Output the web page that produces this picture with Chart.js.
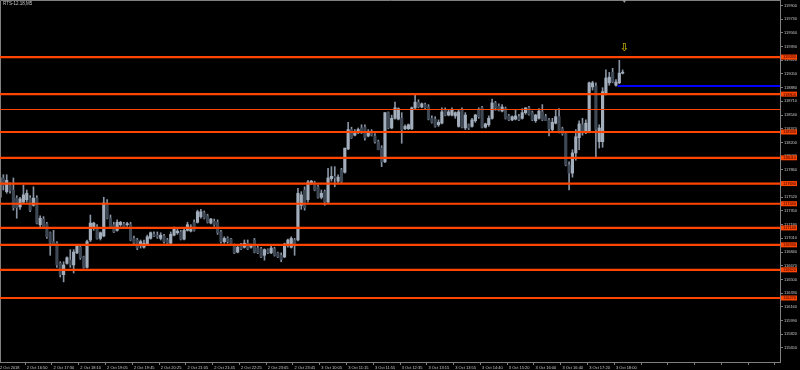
<!DOCTYPE html>
<html>
<head>
<meta charset="utf-8">
<script src="https://cdn.jsdelivr.net/npm/chart.js@4.4.0/dist/chart.umd.min.js"></script>
<style>
  html, body { margin: 0; padding: 0; background: #000; }
  canvas { display: block; }
</style>
</head>
<body>
<canvas id="rtsChart" width="800" height="370"></canvas>
<script>
const symbolTitle = 'RTS-12.18,M5';
const slotCount = 234; // bar slots across the window, the rest is chart shift

// one label every 8 bars
const timeLabels = [
  '2 Oct 2018', '2 Oct 16:50', '2 Oct 17:30', '2 Oct 18:10', '2 Oct 19:05', '2 Oct 19:45',
  '2 Oct 20:25', '2 Oct 21:05', '2 Oct 21:45', '2 Oct 22:25', '2 Oct 23:05', '2 Oct 23:45',
  '3 Oct 10:05', '3 Oct 11:15', '3 Oct 11:55', '3 Oct 12:35', '3 Oct 13:15', '3 Oct 13:55',
  '3 Oct 14:40', '3 Oct 15:20', '3 Oct 16:00', '3 Oct 16:40', '3 Oct 17:20', '3 Oct 18:00'
];

const yTicks = [
  119900, 119730, 119560, 119390, 119220, 119050, 118880, 118710, 118540, 118370,
  118200, 118030, 117860, 117690, 117520, 117350, 117180, 117010, 116840, 116670,
  116500, 116330, 116160, 115990, 115820, 115650
];

const opens = [
  117520, 117760, 117590, 117670, 117610, 117510, 117400, 117460, 117490, 117510,
  117420, 117510, 117180, 117250, 117190, 117080, 116970, 116950, 116700, 116560,
  116700, 116740, 116680, 116830, 116900, 116780, 116650, 116990, 117140, 117150,
  117010, 117040, 117450, 117260, 117180, 117110, 117180, 117190, 117180, 117180,
  117010, 116990, 116920, 116900, 116930, 117010, 117060, 117050, 117010, 117040,
  116990, 116950, 117050, 117080, 117090, 117000, 117110, 117100, 117210, 117210,
  117280, 117330, 117290, 117200, 117220, 117210, 117090, 116970, 117010, 117000,
  116930, 116840, 116930, 116900, 116950, 116900, 116990, 116890, 116880, 116800,
  116870, 116830, 116880, 116830, 116800, 116780, 116920, 116900, 116990, 116990,
  117420, 117610, 117490, 117700, 117700, 117650, 117520, 117590, 117460, 117750,
  117780, 117720, 117860, 117830, 118120, 118360, 118290, 118320, 118380, 118390,
  118280, 118320, 118280, 118210, 118130, 117960, 118570, 118380, 118500, 118490,
  118500, 118370, 118370, 118370, 118630, 118700, 118640, 118670, 118640, 118500,
  118490, 118420, 118440, 118600, 118540, 118540, 118530, 118400, 118600, 118380,
  118420, 118400, 118470, 118600, 118630, 118390, 118420, 118500, 118690, 118650,
  118590, 118620, 118530, 118480, 118490, 118520, 118500, 118570, 118630, 118570,
  118470, 118500, 118580, 118520, 118480, 118360, 118440, 118520, 118370, 118310,
  117920, 117820, 118070, 118260, 118420, 118320, 118330, 118890, 118900, 118210,
  118210, 118810, 118940, 119070, 118910, 118940, 119060
];

const highs = [
  117860, 117800, 117800, 117700, 117760, 117540, 117520, 117670, 117610, 117540,
  117650, 117540, 117290, 117280, 117210, 117090, 117110, 116970, 116720, 116720,
  116780, 116870, 116870, 116930, 116930, 116790, 116990, 117300, 117210, 117180,
  117090, 117520, 117490, 117300, 117210, 117240, 117220, 117210, 117210, 117210,
  117040, 117010, 116990, 116990, 117050, 117090, 117090, 117090, 117080, 117060,
  117010, 117090, 117150, 117130, 117110, 117140, 117210, 117180, 117240, 117360,
  117370, 117350, 117310, 117260, 117250, 117240, 117110, 117030, 117030, 117010,
  116940, 116920, 116950, 116990, 116990, 116940, 117010, 116920, 116900, 116880,
  116880, 116930, 116900, 116840, 116830, 116950, 117000, 117030, 117010, 117630,
  117590, 117650, 117730, 117730, 117720, 117670, 117610, 117610, 117880, 117900,
  117900, 117800, 117880, 118130, 118450, 118390, 118360, 118380, 118420, 118420,
  118360, 118360, 118310, 118230, 118160, 118570, 118580, 118540, 118700, 118630,
  118570, 118420, 118430, 118640, 118790, 118730, 118690, 118690, 118670, 118530,
  118520, 118480, 118630, 118630, 118600, 118630, 118580, 118600, 118630, 118570,
  118430, 118500, 118550, 118630, 118650, 118440, 118530, 118740, 118710, 118680,
  118670, 118640, 118550, 118530, 118600, 118550, 118620, 118630, 118650, 118590,
  118550, 118620, 118670, 118550, 118500, 118500, 118600, 118620, 118390, 118330,
  117960, 118110, 118360, 118470, 118500, 118480, 118950, 118960, 118940, 118420,
  118880, 119100, 119070, 119120, 118980, 119220, 119100
];

const lows = [
  117500, 117610, 117570, 117570, 117360, 117260, 117370, 117440, 117460, 117340,
  117410, 117190, 117150, 117130, 117010, 116800, 116920, 116650, 116530, 116470,
  116690, 116650, 116580, 116820, 116750, 116640, 116640, 116970, 117110, 117000,
  116990, 117030, 117250, 117140, 117080, 117100, 117160, 117130, 117160, 116980,
  116930, 116870, 116890, 116890, 116920, 117000, 117030, 117010, 116990, 116950,
  116930, 116940, 117040, 117060, 116990, 116990, 117100, 117090, 117100, 117200,
  117260, 117250, 117200, 117190, 117160, 117060, 116950, 116950, 116950, 116920,
  116820, 116830, 116870, 116890, 116870, 116890, 116830, 116820, 116770, 116740,
  116820, 116820, 116790, 116770, 116720, 116770, 116900, 116890, 116800, 116980,
  117370, 117360, 117460, 117680, 117600, 117510, 117500, 117420, 117450, 117720,
  117650, 117700, 117700, 117820, 118110, 118250, 118280, 118310, 118310, 118230,
  118270, 118280, 118190, 118110, 117900, 117950, 118370, 118370, 118490, 118480,
  118190, 118360, 118360, 118360, 118620, 118630, 118630, 118620, 118480, 118440,
  118390, 118400, 118430, 118530, 118530, 118530, 118500, 118390, 118380, 118360,
  118360, 118390, 118450, 118500, 118380, 118380, 118400, 118490, 118600, 118590,
  118580, 118490, 118470, 118470, 118480, 118470, 118490, 118550, 118540, 118470,
  118450, 118490, 118470, 118470, 118280, 118340, 118430, 118320, 118290, 117910,
  117610, 117770, 117980, 118110, 118290, 118310, 118320, 118850, 118020, 118130,
  118140, 118790, 118910, 118940, 118900, 118930, 119050
];

const closes = [
  117760, 117670, 117730, 117600, 117390, 117390, 117500, 117550, 117570, 117360,
  117510, 117200, 117260, 117150, 117030, 116950, 116930, 116680, 116560, 116680,
  116770, 116680, 116840, 116920, 116770, 116650, 116970, 117200, 117200, 117010,
  117080, 117450, 117260, 117150, 117090, 117210, 117210, 117140, 117190, 116990,
  116950, 116890, 116970, 116950, 117030, 117080, 117040, 117030, 117050, 116970,
  116950, 117060, 117130, 117100, 117000, 117110, 117180, 117150, 117110, 117340,
  117340, 117260, 117210, 117250, 117180, 117080, 116970, 117010, 116970, 116930,
  116830, 116900, 116880, 116950, 116880, 116930, 116840, 116830, 116780, 116870,
  116830, 116890, 116800, 116780, 116750, 116940, 116990, 117010, 116920, 117570,
  117550, 117390, 117710, 117720, 117610, 117520, 117570, 117460, 117760, 117780,
  117760, 117770, 117710, 118130, 118360, 118260, 118330, 118360, 118320, 118260,
  118320, 118290, 118210, 118110, 117960, 118570, 118380, 118500, 118630, 118620,
  118360, 118400, 118420, 118630, 118700, 118640, 118680, 118630, 118490, 118450,
  118400, 118450, 118580, 118540, 118580, 118600, 118570, 118580, 118390, 118540,
  118380, 118480, 118540, 118520, 118390, 118430, 118500, 118690, 118630, 118600,
  118640, 118500, 118480, 118520, 118530, 118480, 118570, 118630, 118550, 118480,
  118540, 118590, 118480, 118470, 118370, 118450, 118520, 118330, 118310, 117920,
  117820, 118070, 118270, 118430, 118330, 118440, 118940, 118940, 118360, 118380,
  118830, 119000, 119010, 118950, 118950, 119060, 119070
];

// horizontal levels (orange), a thin one and the blue bid line
const levels = [119260, 118800, 118330, 118010, 117690, 117440, 117140, 116930, 116620, 116270];
const thinLevel = 118620;
const bidLevel = 118900;
const bidFromBar = 184.5;
const arrowBar = 186.5;
const arrowPrice = 119370;

const bullColor = '#a3aebd';
const bearColor = '#3e4754';
const wickColor = '#8893a3';
const axisColor = '#808080';
const textColor = '#c8c8c8';
const levelColor = '#ff4500';
const smallFont = { family: 'Liberation Sans', size: 4 };

const slots = Array.from({ length: slotCount }, (_, i) => i);
const bodyColors = opens.map((o, i) => closes[i] >= o ? bullColor : bearColor);

const overlay = {
  id: 'overlay',
  beforeDraw(chart) {
    const ctx = chart.ctx;
    ctx.save();
    ctx.fillStyle = '#000';
    ctx.fillRect(0, 0, chart.width, chart.height);
    ctx.restore();
  },
  afterDatasetsDraw(chart) {
    const { ctx, chartArea: a, scales: { x, y } } = chart;
    ctx.save();

    // frame top / left
    ctx.strokeStyle = axisColor;
    ctx.lineWidth = 1;
    ctx.beginPath();
    ctx.moveTo(0.5, a.bottom);
    ctx.lineTo(0.5, 0.5);
    ctx.lineTo(a.right, 0.5);
    ctx.stroke();

    ctx.beginPath();
    ctx.rect(a.left, a.top, a.right - a.left, a.bottom - a.top);
    ctx.clip();

    ctx.strokeStyle = levelColor;
    ctx.lineWidth = 1;
    let py = Math.round(y.getPixelForValue(thinLevel)) + 0.5;
    ctx.beginPath(); ctx.moveTo(a.left, py); ctx.lineTo(a.right, py); ctx.stroke();

    ctx.lineWidth = 2.2;
    levels.forEach(v => {
      const p = y.getPixelForValue(v);
      ctx.beginPath(); ctx.moveTo(a.left, p); ctx.lineTo(a.right, p); ctx.stroke();
    });

    // bid line
    ctx.strokeStyle = '#0000ff';
    ctx.lineWidth = 2;
    py = y.getPixelForValue(bidLevel);
    ctx.beginPath(); ctx.moveTo(x.getPixelForValue(bidFromBar), py); ctx.lineTo(a.right, py); ctx.stroke();

    // arrow mark
    ctx.fillStyle = '#b4a200';
    ctx.font = 'bold 11px "DejaVu Sans"';
    ctx.textAlign = 'center';
    ctx.textBaseline = 'middle';
    ctx.fillText('\u21e9', x.getPixelForValue(arrowBar), y.getPixelForValue(arrowPrice));

    // shift marker
    const sx = x.getPixelForValue(arrowBar);
    ctx.fillStyle = '#9a9a9a';
    ctx.beginPath(); ctx.moveTo(sx - 2, 0); ctx.lineTo(sx + 2, 0); ctx.lineTo(sx, 3); ctx.closePath(); ctx.fill();

    // title
    ctx.fillStyle = textColor;
    ctx.font = '4.5px "Liberation Sans"';
    ctx.textAlign = 'left';
    ctx.textBaseline = 'top';
    ctx.fillText(symbolTitle, 3, 1.5);
    ctx.restore();
  },
  afterDraw(chart) {
    const { ctx, chartArea: a, scales: { y } } = chart;
    ctx.save();
    ctx.font = '4px "Liberation Sans"';
    ctx.textAlign = 'left';
    ctx.textBaseline = 'middle';
    levels.forEach(v => {
      const p = y.getPixelForValue(v);
      ctx.fillStyle = levelColor;
      ctx.fillRect(a.right + 1, p - 2.5, 16, 5);
      ctx.fillStyle = '#200000';
      ctx.fillText(String(v), a.right + 3, p + 0.3);
    });
    ctx.restore();
  }
};

new Chart(document.getElementById('rtsChart'), {
  type: 'bar',
  data: {
    labels: slots,
    datasets: [
      {
        label: 'wick',
        data: lows.map((l, i) => [l, highs[i]]),
        backgroundColor: wickColor,
        barThickness: 1,
        grouped: false,
        order: 2
      },
      {
        label: 'body',
        data: opens.map((o, i) => [o, closes[i]]),
        backgroundColor: bodyColors,
        borderColor: wickColor,
        borderWidth: 0,
        barThickness: 2.5,
        minBarLength: 1,
        grouped: false,
        order: 1
      }
    ]
  },
  plugins: [overlay],
  options: {
    responsive: false,
    animation: false,
    layout: { padding: 0 },
    plugins: { legend: { display: false }, tooltip: { enabled: false } },
    scales: {
      x: {
        type: 'category',
        offset: false,
        border: { color: axisColor },
        grid: {
          drawOnChartArea: false,
          tickLength: 3,
          color: c => c.index % 8 === 0 ? axisColor : 'rgba(0,0,0,0)'
        },
        ticks: {
          autoSkip: false,
          maxRotation: 0,
          minRotation: 0,
          align: 'start',
          padding: 0,
          color: textColor,
          font: smallFont,
          callback: (v, i) => i % 8 === 0 ? (timeLabels[i / 8] || '') : ''
        },
        afterFit: s => { s.height = 8; s.paddingLeft = 0; s.paddingRight = 0; }
      },
      y: {
        position: 'right',
        min: 115476,
        max: 119968,
        border: { color: axisColor },
        grid: { drawOnChartArea: false, tickLength: 3, color: axisColor },
        ticks: {
          padding: 1,
          color: textColor,
          font: smallFont,
          callback: v => String(v)
        },
        afterBuildTicks: s => { s.ticks = yTicks.map(v => ({ value: v })); },
        afterFit: s => { s.width = 20; s.paddingTop = 0; s.paddingBottom = 0; }
      }
    }
  }
});
</script>
</body>
</html>
